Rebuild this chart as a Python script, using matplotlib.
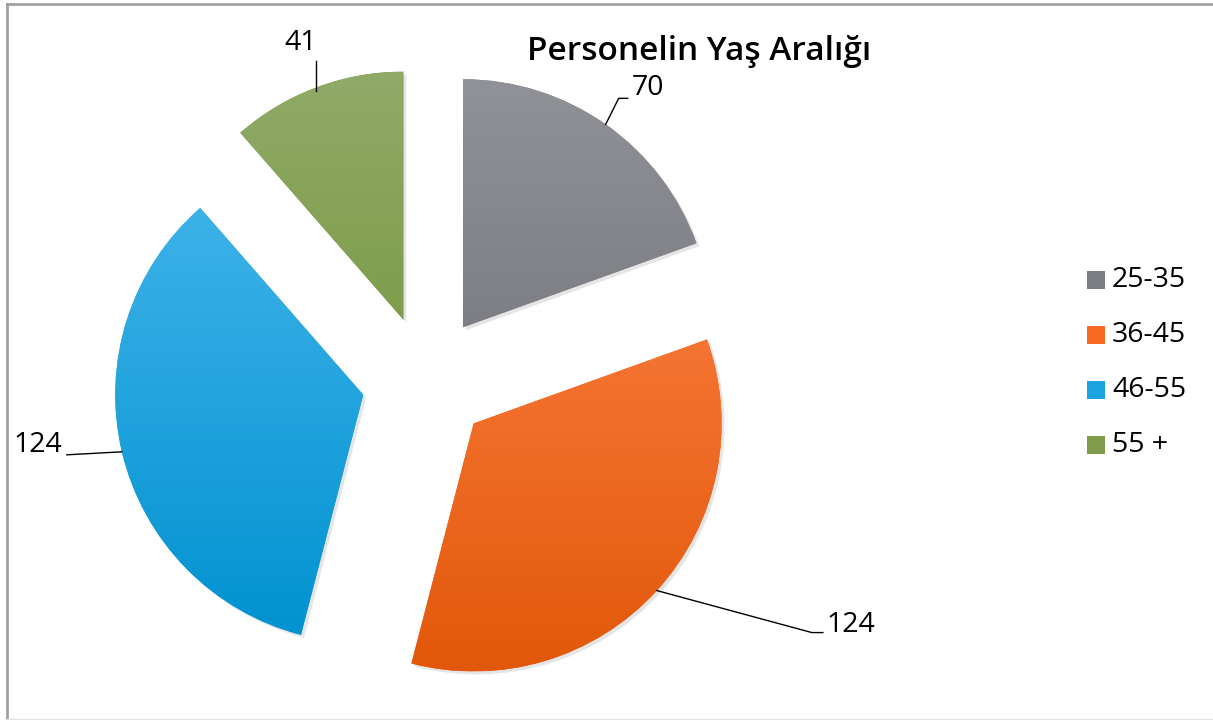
import numpy as np
import matplotlib
matplotlib.use("Agg")
import matplotlib.pyplot as plt
from matplotlib.colors import LinearSegmentedColormap
from matplotlib.patches import Rectangle, Wedge
from matplotlib.lines import Line2D

plt.rcParams['font.family'] = ['Open Sans', 'DejaVu Sans']

title = "Personelin Yaş Aralığı"
categories = ["25-35", "36-45", "46-55", "55 +"]
values = [70, 124, 124, 41]
top_colors = ["#919297", "#ff8246", "#46b6ec", "#90aa68"]
bottom_colors = ["#6a6b70", "#e2580a", "#0092d0", "#6c9030"]
legend_colors = ["#7d7e83", "#f96a22", "#1aa3de", "#7e9c4a"]

# pixel geometry of the reference (1 data unit = R_PX pixels)
W, H = 1213, 720
R_PX = 248.0
CX, CY = 426, 380
explode = 0.26

fig = plt.figure(figsize=(W / 100, H / 100), dpi=100)
ax = fig.add_axes([0, 0, 1, 1])

wedges, _ = ax.pie(values, startangle=90, counterclock=False,
                   explode=[explode] * len(values), radius=1,
                   colors=legend_colors, wedgeprops=dict(linewidth=0))

# vertical gradient fill for each slice, clipped to the wedge
grad = np.linspace(0, 1, 256).reshape(-1, 1)
for w, c0, c1 in zip(wedges, top_colors, bottom_colors):
    cx, cy = w.center
    r = w.r
    # subtle shadow
    sh = Wedge((cx + 0.012, cy - 0.012), r, w.theta1, w.theta2,
               facecolor='#000000', alpha=0.10, linewidth=0, zorder=1)
    ax.add_patch(sh)
    w.set_zorder(2)
    cmap = LinearSegmentedColormap.from_list("g", [c0, c1])
    im = ax.imshow(grad, cmap=cmap, aspect='auto', origin='upper',
                   extent=[cx - r, cx + r, cy - r, cy + r], zorder=3)
    im.set_clip_path(w)

ax.set_xlim(-CX / R_PX, (W - CX) / R_PX)
ax.set_ylim(-(H - CY) / R_PX, CY / R_PX)
ax.set_aspect('equal')
ax.axis('off')

# data labels with leader lines (offsets in pixels)
px = 1 / R_PX
label_style = [
    dict(path=[(13, 26), (22, 26)], text=(26, 36), ha='left'),
    dict(path=[(155, -42), (166, -42)], text=(170, -34), ha='left'),
    dict(path=[(-55, -3)], text=(-60, 7), ha='right'),
    dict(path=[(0, 26)], text=(-16, 44), ha='center', start=(0, -4)),
]
for w, v, st in zip(wedges, values, label_style):
    mid = np.deg2rad((w.theta1 + w.theta2) / 2)
    ax0 = w.center[0] + w.r * np.cos(mid)
    ay0 = w.center[1] + w.r * np.sin(mid)
    s = st.get('start', (0, 0))
    xs = [ax0 + s[0] * px] + [ax0 + p[0] * px for p in st['path']]
    ys = [ay0 + s[1] * px] + [ay0 + p[1] * px for p in st['path']]
    ax.plot(xs, ys, color='black', linewidth=1.0, zorder=5)
    ax.text(ax0 + st['text'][0] * px, ay0 + st['text'][1] * px, str(v),
            ha=st['ha'], va='center', fontsize=20.5, color='black', zorder=5)

fig.text(699 / W, 1 - 52 / H, title, ha='center', va='center',
         fontsize=24, fontweight='semibold', color='black')

# legend
for i, (cat, col) in enumerate(zip(categories, legend_colors)):
    y = 280 + i * 55
    fig.patches.append(Rectangle((1087 / W, 1 - (y + 9) / H), 18 / W, 18 / H,
                                 transform=fig.transFigure, facecolor=col,
                                 edgecolor='none'))
    fig.text(1112 / W, 1 - y / H, cat, ha='left', va='center',
             fontsize=20.5, color='black')

# chart border (left and top strong, bottom faint)
fig.lines.append(Line2D([7 / W, 7 / W], [0, 1 - 4 / H], transform=fig.transFigure,
                        color='#a0a0a0', linewidth=2))
fig.lines.append(Line2D([7 / W, 1], [1 - 4 / H, 1 - 4 / H], transform=fig.transFigure,
                        color='#a0a0a0', linewidth=2))
fig.lines.append(Line2D([7 / W, 1], [1.5 / H, 1.5 / H], transform=fig.transFigure,
                        color='#e4e4e4', linewidth=1))

fig.savefig("out.png", dpi=100)
